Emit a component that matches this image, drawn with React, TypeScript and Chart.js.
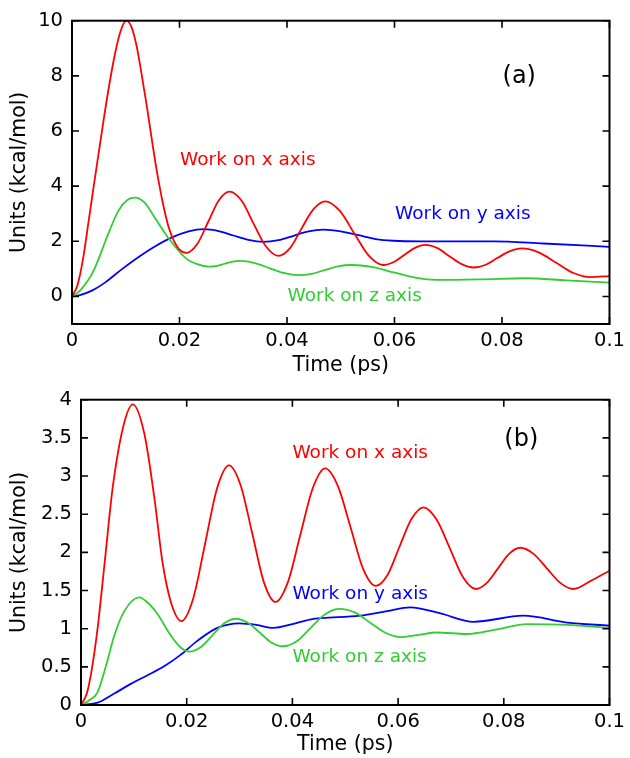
import React, { useEffect, useRef } from 'react';
import { Chart, registerables } from 'chart.js';

Chart.register(...registerables);

// ---------- colours ----------
const RED = '#ff0000';
const GREEN = '#33cc33';
const BLUE = '#0000ff';

// ---------- shared axis ticks ----------
const timeTicks = [0, 0.02, 0.04, 0.06, 0.08, 0.1];
const timeTickLabels = ['0', '0.02', '0.04', '0.06', '0.08', '0.1'];

// ---------- panel (a) ----------
const yTicksA = [0, 2, 4, 6, 8, 10];
const yTickLabelsA = ['0', '2', '4', '6', '8', '10'];

const timeRedA = [0, 0.001, 0.002, 0.003, 0.004, 0.005, 0.006, 0.007, 0.008, 0.009, 0.0101, 0.011, 0.012, 0.013, 0.014, 0.015, 0.016, 0.017, 0.018, 0.019, 0.020, 0.0213, 0.0233, 0.0253, 0.0273, 0.0293, 0.0316, 0.0338, 0.0361, 0.0384, 0.0406, 0.0427, 0.0449, 0.0471, 0.0498, 0.0525, 0.0552, 0.0579, 0.0599, 0.0618, 0.0638, 0.0657, 0.068, 0.0702, 0.0725, 0.0747, 0.077, 0.0792, 0.0815, 0.0837, 0.0869, 0.0901, 0.0933, 0.0965, 0.1];
const workRedA = [0, 0.4, 1.3, 2.6, 3.95, 5.25, 6.55, 7.75, 8.8, 9.6, 10.0, 9.8, 9.1, 8.0, 6.8, 5.5, 4.3, 3.3, 2.5, 2.0, 1.7, 1.58, 1.90, 2.69, 3.48, 3.8, 3.46, 2.63, 1.81, 1.47, 1.76, 2.46, 3.16, 3.45, 3.11, 2.29, 1.48, 1.14, 1.25, 1.50, 1.76, 1.87, 1.75, 1.46, 1.17, 1.05, 1.15, 1.40, 1.64, 1.74, 1.59, 1.22, 0.85, 0.70, 0.74];

const timeGreenA = [0, 0.001, 0.0019, 0.0037, 0.005, 0.0062, 0.0087, 0.0103, 0.0117, 0.0135, 0.0155, 0.018, 0.0211, 0.0233, 0.0255, 0.027, 0.0284, 0.0299, 0.0313, 0.034, 0.0367, 0.0394, 0.0421, 0.0446, 0.047, 0.0495, 0.052, 0.056, 0.0599, 0.0639, 0.0678, 0.076, 0.0844, 0.092, 0.1];
const workGreenA = [0, 0.12, 0.3, 0.81, 1.38, 2.0, 3.13, 3.5, 3.58, 3.4, 2.83, 2.1, 1.4, 1.17, 1.08, 1.11, 1.185, 1.26, 1.29, 1.21, 1.03, 0.85, 0.77, 0.82, 0.955, 1.09, 1.14, 1.06, 0.87, 0.68, 0.6, 0.62, 0.66, 0.58, 0.5];

const timeBlueA = [0, 0.0015, 0.0037, 0.0062, 0.0093, 0.0124, 0.0155, 0.0186, 0.0217, 0.0245, 0.0273, 0.030, 0.0328, 0.0356, 0.0384, 0.0412, 0.044, 0.0468, 0.050, 0.0533, 0.0565, 0.0598, 0.065, 0.07, 0.0784, 0.0877, 0.1];
const workBlueA = [0, 0.05, 0.21, 0.51, 0.99, 1.43, 1.82, 2.14, 2.36, 2.44, 2.37, 2.21, 2.05, 1.98, 2.04, 2.20, 2.36, 2.42, 2.36, 2.22, 2.08, 2.02, 2.0, 2.0, 2.0, 1.92, 1.8];

// ---------- panel (b) ----------
const yTicksB = [0, 0.5, 1, 1.5, 2, 2.5, 3, 3.5, 4];
const yTickLabelsB = ['0', '0.5', '1', '1.5', '2', '2.5', '3', '3.5', '4'];

const timeRedB = [0, 0.0011, 0.002, 0.00315, 0.0045, 0.006, 0.008, 0.0098, 0.012, 0.014, 0.0154, 0.017, 0.019, 0.02125, 0.0235, 0.02575, 0.028, 0.0302, 0.0324, 0.0346, 0.0368, 0.03915, 0.0415, 0.04385, 0.0462, 0.0486, 0.051, 0.0534, 0.0558, 0.05805, 0.0603, 0.06255, 0.0648, 0.06728, 0.06975, 0.07223, 0.0747, 0.0768, 0.0789, 0.081, 0.0831, 0.08563, 0.08815, 0.09068, 0.0932, 0.0963, 0.1];
const workRedB = [0, 0.15, 0.45, 1.01, 1.88, 2.85, 3.65, 3.94, 3.55, 2.65, 1.88, 1.35, 1.10, 1.40, 2.12, 2.84, 3.14, 2.88, 2.25, 1.61, 1.35, 1.61, 2.23, 2.84, 3.10, 2.87, 2.33, 1.78, 1.56, 1.71, 2.08, 2.44, 2.59, 2.43, 2.06, 1.68, 1.52, 1.60, 1.79, 1.98, 2.06, 1.98, 1.79, 1.60, 1.52, 1.62, 1.76];

const timeGreenB = [0, 0.0015, 0.00315, 0.005, 0.0063, 0.0082, 0.011, 0.0128, 0.0145, 0.017, 0.0189, 0.0205, 0.0227, 0.0249, 0.0271, 0.0293, 0.0315, 0.0338, 0.036, 0.0382, 0.0409, 0.0435, 0.0462, 0.0489, 0.0519, 0.0548, 0.0578, 0.0607, 0.064, 0.0673, 0.073, 0.0787, 0.0844, 0.092, 0.1];
const workGreenB = [0, 0.06, 0.17, 0.58, 0.91, 1.23, 1.41, 1.33, 1.19, 0.91, 0.75, 0.70, 0.76, 0.915, 1.07, 1.13, 1.08, 0.95, 0.82, 0.77, 0.84, 1.015, 1.19, 1.26, 1.21, 1.075, 0.94, 0.89, 0.92, 0.95, 0.93, 0.99, 1.06, 1.05, 1.01];

const timeBlueB = [0, 0.00315, 0.0063, 0.0095, 0.0126, 0.0158, 0.0189, 0.022, 0.0258, 0.030, 0.0332, 0.0364, 0.040, 0.0433, 0.0528, 0.0579, 0.0623, 0.068, 0.0743, 0.0837, 0.092, 0.1];
const workBlueB = [0, 0.03, 0.15, 0.28, 0.39, 0.51, 0.66, 0.84, 1.01, 1.07, 1.05, 1.01, 1.06, 1.12, 1.17, 1.23, 1.28, 1.2, 1.09, 1.17, 1.08, 1.04];

// ---------- annotations (data coordinates) ----------
const annotationsA = [
  { text: 'Work on x axis', color: RED, t: 0.0201, v: 4.95, size: 18.5 },
  { text: 'Work on y axis', color: BLUE, t: 0.0601, v: 2.99, size: 18.5 },
  { text: 'Work on z axis', color: GREEN, t: 0.0401, v: 0.0, size: 18.5 },
  { text: '(a)', color: '#000', t: 0.0801, v: 7.95, size: 24 },
];
const annotationsB = [
  { text: 'Work on x axis', color: RED, t: 0.04, v: 3.30, size: 18.5 },
  { text: 'Work on y axis', color: BLUE, t: 0.04, v: 1.45, size: 18.5 },
  { text: 'Work on z axis', color: GREEN, t: 0.04, v: 0.62, size: 18.5 },
  { text: '(b)', color: '#000', t: 0.0801, v: 3.48, size: 24 },
];

const FONT = "'DejaVu Sans', sans-serif";

function pts(ts: number[], vs: number[]) {
  return ts.map((t, i) => ({ x: t, y: vs[i] }));
}

const framePlugin = {
  id: 'frameTicks',
  afterDatasetsDraw(chart: any) {
    const { ctx, chartArea: a, scales } = chart;
    const len = 7;
    ctx.save();
    ctx.strokeStyle = '#000';
    ctx.lineWidth = 1.6;
    ctx.beginPath();
    scales.x.ticks.forEach((tk: any) => {
      const px = scales.x.getPixelForValue(tk.value);
      ctx.moveTo(px, a.bottom);
      ctx.lineTo(px, a.bottom - len);
      ctx.moveTo(px, a.top);
      ctx.lineTo(px, a.top + len);
    });
    scales.y.ticks.forEach((tk: any) => {
      const py = scales.y.getPixelForValue(tk.value);
      ctx.moveTo(a.left, py);
      ctx.lineTo(a.left + len, py);
      ctx.moveTo(a.right, py);
      ctx.lineTo(a.right - len, py);
    });
    ctx.stroke();
    ctx.lineWidth = 2;
    ctx.strokeRect(a.left, a.top, a.right - a.left, a.bottom - a.top);
    const anns = chart.options.plugins.frameTicks.annotations || [];
    ctx.textBaseline = 'middle';
    ctx.textAlign = 'left';
    anns.forEach((an: any) => {
      ctx.fillStyle = an.color;
      ctx.font = `${an.size}px ${FONT}`;
      ctx.fillText(an.text, scales.x.getPixelForValue(an.t), scales.y.getPixelForValue(an.v));
    });
    ctx.restore();
  },
};

type PanelProps = {
  series: { t: number[]; v: number[]; color: string }[];
  yMin: number;
  yMax: number;
  yTicks: number[];
  yTickLabels: string[];
  annotations: any[];
  axisLeft: number;
  padTop: number;
  xAxisHeight: number;
};

const W = 630;
const H = 379;

function Panel(p: PanelProps) {
  const ref = useRef<HTMLCanvasElement>(null);
  useEffect(() => {
    if (!ref.current) return;
    const chart = new Chart(ref.current, {
      type: 'line',
      data: {
        datasets: p.series.map((s) => ({
          data: pts(s.t, s.v),
          borderColor: s.color,
          borderWidth: 1.8,
          pointRadius: 0,
          fill: false,
          cubicInterpolationMode: 'monotone' as const,
        })),
      },
      options: {
        responsive: false,
        animation: false,
        events: [],
        layout: { padding: { left: 0, right: 20, top: p.padTop, bottom: 0 } },
        plugins: {
          legend: { display: false },
          tooltip: { enabled: false },
          frameTicks: { annotations: p.annotations },
        } as any,
        scales: {
          x: {
            type: 'linear',
            min: 0,
            max: 0.1,
            grid: { display: false, drawTicks: false },
            border: { display: false },
            afterBuildTicks: (s: any) => {
              s.ticks = timeTicks.map((v) => ({ value: v }));
            },
            afterFit: (s: any) => {
              s.height = p.xAxisHeight;
            },
            ticks: {
              padding: 5,
              color: '#000',
              maxRotation: 0,
              autoSkip: false,
              font: { family: FONT, size: 19.5 },
              callback: (_v: any, i: number) => timeTickLabels[i],
            },
            title: {
              display: true,
              text: 'Time (ps)',
              color: '#000',
              font: { family: FONT, size: 20.5 },
              padding: { top: 0, bottom: 1 },
            },
          },
          y: {
            type: 'linear',
            min: p.yMin,
            max: p.yMax,
            grid: { display: false, drawTicks: false },
            border: { display: false },
            afterBuildTicks: (s: any) => {
              s.ticks = p.yTicks.map((v) => ({ value: v }));
            },
            afterFit: (s: any) => {
              s.width = p.axisLeft;
            },
            ticks: {
              padding: 9,
              color: '#000',
              autoSkip: false,
              font: { family: FONT, size: 19.5 },
              callback: (_v: any, i: number) => p.yTickLabels[i],
            },
            title: {
              display: true,
              text: 'Units (kcal/mol)',
              color: '#000',
              font: { family: FONT, size: 20.5 },
              padding: { top: 7.5, bottom: 0 },
            },
          },
        },
      },
      plugins: [framePlugin],
    } as any);
    return () => chart.destroy();
  }, []);
  return (
    <div style={{ width: W, height: H }}>
      <canvas ref={ref} width={W} height={H} style={{ display: 'block' }} />
    </div>
  );
}

export default function App() {
  return (
    <div style={{ position: 'absolute', left: 0, top: 0, width: 630, height: 758, background: '#fff' }}>
      <Panel
        series={[
          { t: timeRedA, v: workRedA, color: RED },
          { t: timeGreenA, v: workGreenA, color: GREEN },
          { t: timeBlueA, v: workBlueA, color: BLUE },
        ]}
        yMin={-1}
        yMax={10}
        yTicks={yTicksA}
        yTickLabels={yTickLabelsA}
        annotations={annotationsA}
        axisLeft={72}
        padTop={16}
        xAxisHeight={55}
      />
      <Panel
        series={[
          { t: timeRedB, v: workRedB, color: RED },
          { t: timeGreenB, v: workGreenB, color: GREEN },
          { t: timeBlueB, v: workBlueB, color: BLUE },
        ]}
        yMin={0}
        yMax={4}
        yTicks={yTicksB}
        yTickLabels={yTickLabelsB}
        annotations={annotationsB}
        axisLeft={81}
        padTop={18}
        xAxisHeight={53}
      />
    </div>
  );
}
